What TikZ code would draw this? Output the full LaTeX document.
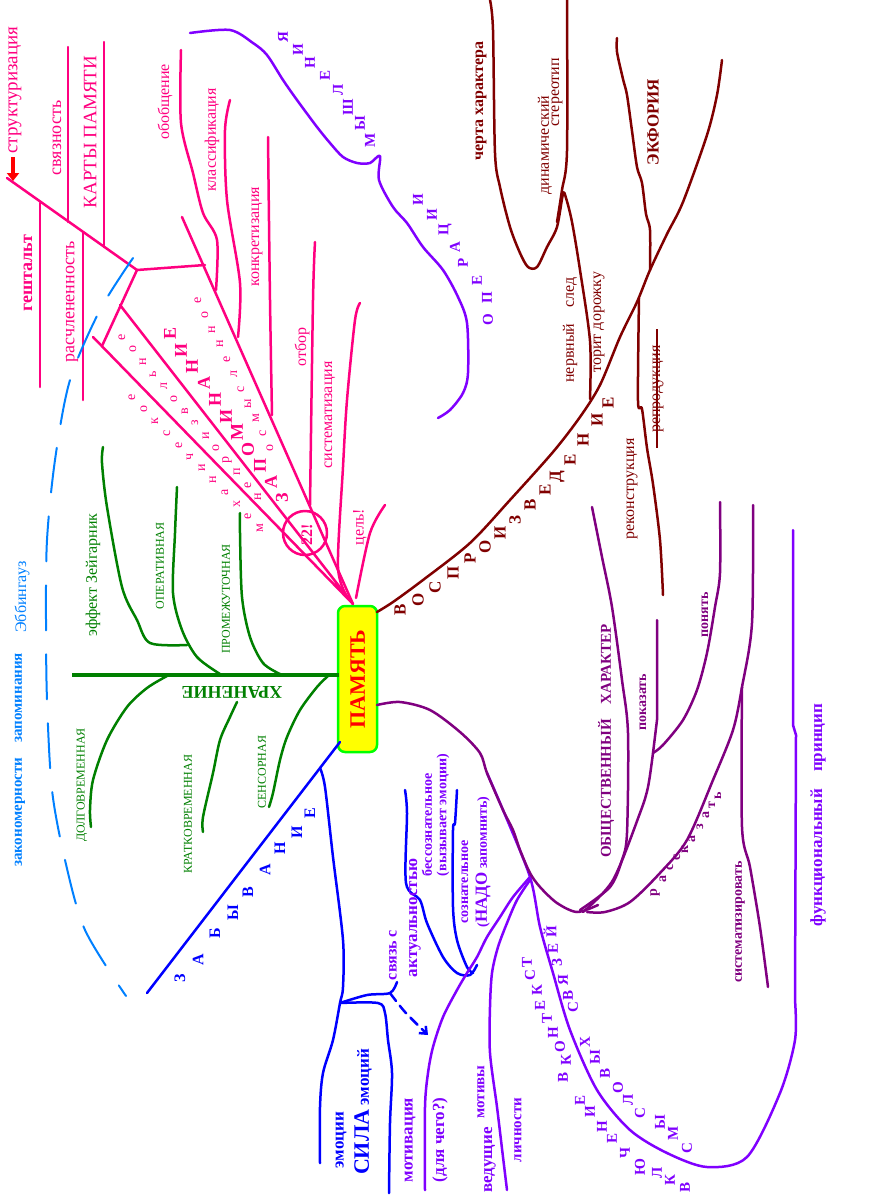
\documentclass[tikz,border=0pt]{standalone}
\usepackage{fontspec}
\setmainfont{Liberation Serif}
\usepackage{xcolor}
\usetikzlibrary{arrows.meta}
\definecolor{colpink}{HTML}{FF0080}
\definecolor{colgreen}{HTML}{008000}
\definecolor{colblue}{HTML}{0000FF}
\definecolor{colsky}{HTML}{0080FF}
\definecolor{colviolet}{HTML}{8000FF}
\definecolor{colplum}{HTML}{800080}
\definecolor{colbrown}{HTML}{800000}
\definecolor{colyellow}{HTML}{FFFF00}
\definecolor{collime}{HTML}{00FF00}
\newcommand{\fs}[1]{\fontsize{#1}{#1}\selectfont}

\begin{document}
\begin{tikzpicture}[x=1pt, y=-1pt,
		wire/.style={line width=2.5pt, line cap=round, line join=round},
		txt/.style={rotate=90, inner sep=0pt, font=\fs{16}},
		lett/.style={rotate=90, inner sep=0pt, font={\fs{15}\bfseries}},
	]
	\fill[white] (0,0) rectangle (870,1200);
	\useasboundingbox (0,0) rectangle (870,1200);

	% centre
	\node[draw=collime, fill=colyellow, line width=2.5pt, rounded corners=7pt,
		minimum width=39pt, minimum height=146pt, inner sep=0pt] (pam) at (357.5,679)
		{\rotatebox{90}{\fs{22}\bfseries\color{red}ПАМЯТЬ}};
	\coordinate (fan) at (353,604);
	\coordinate (pamR) at (377,705);
	\coordinate (pamQ) at (377,612);
	\coordinate (pamL) at (339,675);
	\coordinate (pamS) at (340,742);

	% запоминание (pink)
	\coordinate (pA) at (93,337);
	\coordinate (pB) at (120,305);
	\coordinate (pC) at (182,217);
	\coordinate (knot) at (137,270);
	\coordinate (tipS) at (7,178);
	\draw[wire, colpink] (pA) -- (fan) -- (pB);
	\draw[wire, colpink] (fan) -- (pC);
	\draw[wire, colpink] (102,346) -- (knot) -- (tipS);
	\draw[wire, colpink] (knot) -- (205,265);
	\draw[wire, colpink] (40,203) -- (40,387);
	\draw[wire, colpink] (68,47) -- (68,222);
	\draw[wire, colpink] (83,233) -- (83,400);
	\draw[wire, colpink] (104,42) -- (104,247);
	\draw[red, line width=3.5pt, -{Triangle[width=12pt,length=8pt]}] (13,157) -- (13,181);
	\draw[wire, colpink] plot[smooth] coordinates {(181,50) (181,123) (193,173) (203,213) (217,240) (216,290)};
	\draw[wire, colpink] plot[smooth] coordinates {(230,100) (225,130) (227,200) (240,283) (238,337)};
	\draw[wire, colpink] plot[smooth] coordinates {(268,137) (270,300) (272,415)};
	\draw[wire, colpink] plot[smooth] coordinates {(315,242) (313,300) (310,505)};
	\draw[wire, colpink] plot[smooth] coordinates {(360,303) (355,320) (347,400) (343,467) (338,567) (348,598)};
	\draw[wire, colpink] plot[smooth] coordinates {(385,505) (370,533) (356,598)};
	\draw[wire, colpink] (305,533) circle[radius=22];

	\node[txt, colpink, font=\fs{19}] (strukt) at (15,90) {структуризация};
	\node[txt, colpink, font=\fs{18}] (svyaz) at (57,138) {связность};
	\node[txt, colpink, font=\fs{19}] (karty) at (90,132) {КАРТЫ ПАМЯТИ};
	\node[txt, colpink, font={\fs{18}\bfseries}] (gesh) at (28,273) {гештальт};
	\node[txt, colpink, font=\fs{18}] (rasch) at (72,302) {расчлененность};
	\node[txt, colpink] (obob) at (165,102) {обобщение};
	\node[txt, colpink] (klass) at (212,140) {классификация};
	\node[txt, colpink] (konkr) at (257,237) {конкретизация};
	\node[txt, colpink] (otbor) at (302,347) {отбор};
	\node[txt, colpink] (sist) at (330,415) {систематизация};
	\node[txt, colpink] (cel) at (360,527) {цель!};
	\node[txt, colpink, font={\fs{16}\bfseries}] (dvad) at (307,535) {22!};

	\foreach \ch/\x/\y [count=\i] in {м/260/528, е/248/516, х/237/504, а/225/492, н/213/480, и/202/468,
		ч/190/457, е/179/445, с/167/433, к/155/421, о/144/409, е/132/397}
		\node[lett, colpink, font=\fs{14}] (meh\i) at (\x,\y) {\ch};
	\foreach \ch/\x/\y [count=\i] in {н/258/497, е/248/485, п/237/472, р/227/460, о/216/448, и/206/436,
		з/195/423, в/185/411, о/174/399, л/164/386, ь/153/374, н/143/362, о/133/349, е/122/337}
		\node[lett, colpink, font=\fs{14}] (nepr\i) at (\x,\y) {\ch};
	\foreach \ch/\x/\y [count=\i] in {З/282/498, А/271/482, П/260/465, О/248/449, М/237/432, И/226/416,
		Н/215/399, А/204/383, Н/192/366, И/181/350, Е/170/333}
		\node[lett, colpink, font={\fs{18}\bfseries}] (zap\i) at (\x,\y) {\ch};
	\foreach \ch/\x/\y [count=\i] in {о/270/448, с/263/433, м/256/418, ы/248/404, с/241/389, л/234/374,
		е/227/359, н/220/344, н/212/330, о/205/315, е/198/300}
		\node[lett, colpink, font=\fs{14}] (osm\i) at (\x,\y) {\ch};

	% закономерности (sky)
	\draw[colsky, line width=2pt, dash pattern=on 45pt off 24pt, line cap=round] plot[smooth] coordinates
		{(133,258) (100,310) (70,380) (55,460) (47,540) (46,620) (47,700) (52,790) (65,860) (85,930) (126,996)};
	\node[txt, colsky, font={\fs{15}\bfseries}] (zakon) at (20,760) {закономерности\quad запоминания};
	\node[txt, colsky] (ebb) at (22,597) {Эббингауз};

	% хранение (green)
	\draw[colgreen, line width=3.5pt] (72,675) -- (pamL);
	\draw[wire, colgreen] plot[smooth] coordinates {(103,447) (102,463) (107,507) (122,587) (137,620) (150,643) (187,645)};
	\draw[wire, colgreen] plot[smooth] coordinates {(177,487) (175,533) (173,593) (182,630) (197,657) (220,674)};
	\draw[wire, colgreen] plot[smooth] coordinates {(240,513) (240,533) (242,597) (250,637) (263,663) (280,674)};
	\draw[wire, colgreen] plot[smooth] coordinates {(167,676) (147,688) (127,707) (107,740) (93,780) (90,810) (91,827)};
	\draw[wire, colgreen] plot[smooth] coordinates {(237,702) (230,717) (220,740) (213,773) (203,817) (203,832)};
	\draw[wire, colgreen] plot[smooth] coordinates {(328,676) (317,687) (300,710) (287,737) (280,760) (273,793) (269,807)};
	\node[txt, colgreen] (zeig) at (93,575) {эффект Зейгарник};
	\node[txt, colgreen, font=\fs{12}] (oper) at (160,566) {ОПЕРАТИВНАЯ};
	\node[txt, colgreen, font=\fs{12}] (prom) at (226,599) {ПРОМЕЖУТОЧНАЯ};
	\node[txt, colgreen, font=\fs{12}] (dolg) at (82,785) {ДОЛГОВРЕМЕННАЯ};
	\node[txt, colgreen, font=\fs{12}] (krat) at (188,814) {КРАТКОВРЕМЕННАЯ};
	\node[txt, colgreen, font=\fs{12}] (sens) at (262,772) {СЕНСОРНАЯ};
	\node[colgreen, rotate=180, inner sep=0pt, font={\fs{18}\bfseries}] (hran) at (232,692) {ХРАНЕНИЕ};

	% забывание (blue)
	\draw[wire, colblue] (pamS) -- (147,993);
	\draw[wire, colblue] plot[smooth] coordinates {(320,768) (325,787) (333,857) (343,940) (343,987) (340,1003) (333,1040) (323,1073) (320,1107) (320,1163)};
	\draw[wire, colblue] plot[smooth] coordinates {(340,1003) (367,995) (390,993) (397,982)};
	\draw[wire, colblue, dash pattern=on 10pt off 6pt, -{Straight Barb[length=6pt,width=10pt]}] plot[smooth] coordinates {(390,993) (405,1012) (428,1035)};
	\draw[wire, colblue] plot[smooth] coordinates {(340,1003) (378,1003) (385,1013) (388,1040) (392,1073) (390,1123) (389,1193)};
	\draw[wire, colblue] plot[smooth] coordinates {(405,790) (407,813) (406,883) (420,900) (427,923) (443,957) (457,973) (470,975) (477,965)};
	\draw[wire, colblue] plot[smooth] coordinates {(457,790) (455,823) (453,830) (453,907) (457,940) (467,967) (473,973)};
	\foreach \ch/\x/\y [count=\i] in {З/180/978, А/198/960, Б/215/933, Ы/233/913, В/248/892, А/265/870, Н/280/848, И/297/832, Е/310/813}
		\node[lett, colblue, font={\fs{16}\bfseries}] (zab\i) at (\x,\y) {\ch};
	\node[txt, colblue, font={\fs{17}\bfseries}] (emoc) at (341,1140) {эмоции};
	\node[txt, colblue, font={\fs{17}\bfseries}] (sila) at (363,1112) {{\fs{22}СИЛА} эмоций};

	% мышления, операции (violet)
	\draw[wire, colviolet] plot[smooth] coordinates {(190,33) (230,30) (253,43) (267,55) (283,80) (297,100) (317,127) (330,143) (343,157) (357,163) (370,163) (380,156) (379,180) (393,207) (407,223) (423,247) (443,270) (458,297) (467,323) (468,373) (463,393) (450,410) (438,418)};
	\foreach \ch/\x/\y [count=\i] in {М/370/140, Ы/360/123, Ш/348/107, Л/338/90, Е/325/75, Н/310/63, И/298/50, Я/283/37}
		\node[lett, colviolet] (mysh\i) at (\x,\y) {\ch};
	\foreach \ch/\x/\y [count=\i] in {О/488/320, П/487/298, Е/477/280, Р/463/263, А/455/247, Ц/445/230, И/432/215, И/418/200}
		\node[lett, colviolet] (oper\i) at (\x,\y) {\ch};

	% смысловые связи (violet)
	\draw[wire, colviolet] plot[smooth] coordinates {(487,773) (503,810) (530,877) (540,927) (553,973) (570,1030) (597,1090) (630,1130) (667,1153) (707,1167) (747,1157) (780,1093) (795,1040) (795,1000)} -- (796,735) -- (793,725) -- (793,530);
	\draw[wire, colviolet] plot[smooth] coordinates {(530,877) (513,897) (500,917) (487,937) (477,957) (467,973) (457,990) (443,1017) (433,1047) (428,1073) (425,1107) (425,1190)};
	\draw[wire, colviolet] plot[smooth] coordinates {(530,880) (517,900) (507,923) (498,947) (492,973) (490,1007) (490,1053) (497,1107) (503,1157) (507,1190)};
	\node[txt, colviolet, font={\fs{16}\bfseries}] (svs) at (393,955) {связь с};
	\node[txt, colviolet, font={\fs{17}\bfseries}] (aktu) at (415,918) {актуальностью};
	\node[txt, colviolet, font={\fs{14}\bfseries}] (bess) at (427,825) {бессознательное};
	\node[txt, colviolet, font={\fs{14}\bfseries}] (vyzy) at (443,815) {(вызывает эмоции)};
	\node[txt, colviolet, font={\fs{14}\bfseries}] (sozn) at (465,882) {сознательное};
	\node[txt, colviolet, font={\fs{14}\bfseries}] (nado) at (483,862) {({\fs{17}НАДО} запомнить)};
	\node[txt, colviolet, font={\fs{17}\bfseries}] (motiv) at (410,1140) {мотивация};
	\node[txt, colviolet, font={\fs{17}\bfseries}] (dlya) at (440,1140) {(для чего?)};
	\node[txt, colviolet, font={\fs{17}\bfseries}] (vedu) at (490,1160) {ведущие};
	\node[txt, colviolet, font={\fs{15}\bfseries}] (motivy) at (481,1092) {мотивы};
	\node[txt, colviolet, font={\fs{15}\bfseries}] (lichn) at (518,1130) {личности};
	\node[txt, colviolet, font={\fs{17}\bfseries}] (funk) at (818,815) {функциональный\quad принцип};
	\foreach \ch/\x/\y [count=\i] in {В/685/1187, К/670/1180, Л/657/1173, Ю/640/1167, Ч/625/1153, Е/612/1138, Н/602/1127, И/590/1112, Е/580/1100}
		\node[lett, colviolet] (vkl\i) at (\x,\y) {\ch};
	\foreach \ch/\x/\y [count=\i] in {В/563/1077, К/566/1060, О/560/1047, Н/553/1033, Т/547/1018, Е/540/1005, К/537/990, С/530/975, Т/527/962}
		\node[lett, colviolet] (kont\i) at (\x,\y) {\ch};
	\foreach \ch/\x/\y [count=\i] in {С/687/1148, М/673/1133, Ы/660/1122, С/640/1113, Л/628/1100, О/618/1088, В/605/1073, Ы/595/1057, Х/585/1042}
		\node[lett, colviolet] (smys\i) at (\x,\y) {\ch};
	\foreach \ch/\x/\y [count=\i] in {С/573/1007, В/568/995, Я/563/980, З/557/963, Е/553/948, Й/550/932}
		\node[lett, colviolet] (svyz\i) at (\x,\y) {\ch};

	% общественный характер (plum)
	\draw[wire, colplum] plot[smooth] coordinates {(pamR) (400,702) (430,710) (460,732) (480,753) (487,773) (503,810) (513,830) (520,850) (530,873) (540,887) (557,903) (577,912) (598,905)};
	\draw[wire, colplum] plot[smooth] coordinates {(580,910) (610,887) (622,860) (627,833) (628,733) (622,680) (612,607) (602,557) (592,507)};
	\draw[wire, colplum] plot[smooth] coordinates {(583,912) (613,880) (640,813) (648,787) (653,753)};
	\draw[wire, colplum] (653,753) -- (657,720) -- (657,620);
	\draw[wire, colplum] plot[smooth] coordinates {(653,753) (663,745) (683,720) (697,690) (707,653) (715,607) (720,573) (720,502)};
	\draw[wire, colplum] plot[smooth] coordinates {(587,912) (605,912) (630,902) (660,873) (687,840) (713,780) (733,730) (742,687) (752,623) (753,505)};
	\draw[wire, colplum] plot[smooth] coordinates {(742,687) (742,827) (750,867) (760,927) (768,987)};
	\node[txt, colplum, font={\fs{15}\bfseries}] (obsh) at (606,741) {ОБЩЕСТВЕННЫЙ\quad ХАРАКТЕР};
	\node[txt, colplum, font={\fs{14}\bfseries}] (pokaz) at (643,702) {показать};
	\node[txt, colplum, font={\fs{14}\bfseries}] (ponyat) at (705,615) {понять};
	\node[txt, colplum, font={\fs{14}\bfseries}] (sistem) at (740,922) {систематизировать};
	\foreach \ch/\x/\y [count=\i] in {р/655/893, а/663/879, с/670/867, с/677/857, к/685/849, а/692/839, з/700/827, а/706/815, т/712/805, ь/718/796}
		\node[lett, colplum, font={\fs{14}\bfseries}] (rass\i) at (\x,\y) {\ch};

	% воспроизведение (brown)
	\draw[wire, colbrown] plot[smooth] coordinates {(pamQ) (393,602) (423,580) (470,543) (510,500) (553,452) (580,417) (600,385) (620,337) (637,302) (650,270) (667,234) (683,202) (707,135) (717,95) (722,60)};
	\draw[wire, colbrown] plot[smooth] coordinates {(490,0) (493,30) (495,153) (500,187) (510,227) (520,253) (528,267) (537,267) (547,247) (557,227) (563,194) (566,198) (572,222) (580,270) (590,341) (590,399)};
	\draw[wire, colbrown] plot[smooth] coordinates {(567,0) (567,151) (562,190) (557,222)};
	\draw[wire, colbrown] plot[smooth] coordinates {(617,38) (617,52) (623,79) (627,95) (632,131) (637,167) (642,183) (646,214) (650,230) (650,270)};
	\draw[wire, colbrown] plot[smooth] coordinates {(639,298) (638,401) (642,409) (647,448) (653,484) (660,540) (663,595)};
	\draw[colbrown, line width=2pt] (657,329) -- (657,448);
	\foreach \ch/\x/\y [count=\i] in {В/400/610, О/418/600, С/435/587, П/453/573, Р/470/558, О/485/547, И/500/533, З/515/520,
		В/530/505, Е/545/490, Д/557/477, Е/570/460, Н/583/440, И/597/420, Е/608/403}
		\node[lett, colbrown, font={\fs{17}\bfseries}] (vosp\i) at (\x,\y) {\ch};
	\node[txt, colbrown, font={\fs{16}\bfseries}] (cherta) at (481,101) {черта характера};
	\node[txt, colbrown] (dinam) at (545,145) {динамический};
	\node[txt, colbrown] (stereo) at (557,92) {стереотип};
	\node[txt, colbrown] (nerv) at (570,330) {нервный\quad след};
	\node[txt, colbrown] (torit) at (599,322) {торит дорожку};
	\node[txt, colbrown, font={\fs{17}\bfseries}] (ekf) at (653,122) {ЭКФОРИЯ};
	\node[txt, colbrown] (rekon) at (632,489) {реконструкция};
	\node[txt, colbrown] (repro) at (658,389) {репродукция};
\end{tikzpicture}
\end{document}
